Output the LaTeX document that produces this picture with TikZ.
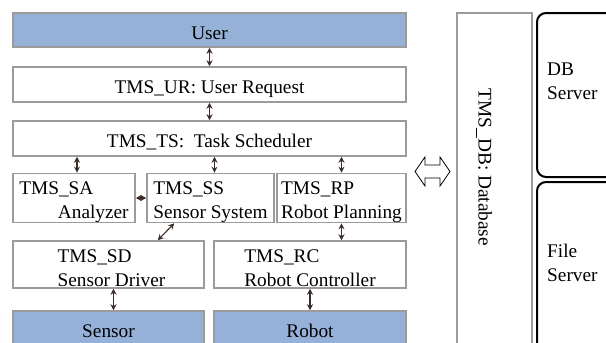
\documentclass[tikz,border=0pt]{standalone}
\usepackage{fontspec}
\setmainfont{Liberation Serif}
\usetikzlibrary{arrows.meta}

\definecolor{boxgray}{RGB}{155,155,155}
\definecolor{layerblue}{RGB}{149,177,216}
\definecolor{linkdark}{RGB}{60,45,40}
\newcommand\tmsstrut{\rule{0pt}{21pt}}

\begin{document}
\begin{tikzpicture}[x=1pt, y=-1pt,
  every node/.style={font=\fontsize{19.3}{24}\selectfont, inner sep=0pt},
  tmsbox/.style={draw=boxgray, line width=1.5pt, fill=white, minimum width=#1},
  oneline/.style={tmsbox=#1, minimum height=35pt, text height=18pt, text depth=0pt},
  twoline/.style={tmsbox=#1, align=left},
  endbox/.style={oneline=#1, fill=layerblue, minimum height=34pt},
  srvbox/.style={draw=black, line width=2pt, rounded corners=9pt, minimum width=88pt},
  link/.style={linkdark, line width=1.1pt, {Stealth[length=6pt,width=6pt]}-{Stealth[length=6pt,width=6pt]}}]
  \useasboundingbox (0,0) rectangle (606,343);
  \clip (0,0) rectangle (606,343);

  % User and upper layers
  \node[endbox=393pt] (user) at (209.5,30) {User};
  \node[oneline=393pt] (ur) at (209.5,84.5) {TMS\_UR: User Request};
  \node[oneline=393pt] (ts) at (209.5,138.5) {TMS\_TS:\ \ Task Scheduler};

  % Middle row
  \node[twoline=122pt, minimum height=46pt] (sa) at (74,198) {\tmsstrut TMS\_SA\\\hspace*{2em}Analyzer};
  \node[twoline=127pt, minimum height=46pt] (ss) at (210.5,198) {\tmsstrut TMS\_SS\\Sensor System};
  \node[twoline=129pt, minimum height=46pt] (rp) at (341.5,198) {\tmsstrut TMS\_RP\\Robot Planning};

  % Drivers
  \node[twoline=191pt, minimum height=47pt] (sd) at (108.5,264.5) {\tmsstrut\hspace*{6pt}TMS\_SD\\\hspace*{6pt}Sensor Driver};
  \node[twoline=192pt, minimum height=47pt] (rc) at (310,264.5) {\tmsstrut TMS\_RC\\Robot Controller};

  % Hardware
  \node[endbox=191pt] (sensor) at (108.5,328) {Sensor};
  \node[endbox=192pt] (robot) at (310,328) {Robot};

  % Links
  \draw[link] (user) -- (ur);
  \draw[link] (ur) -- (ts);
  \draw[link] ([xshift=3pt]sa.north) -- ([xshift=3pt]sa.north |- ts.south);
  \draw[link] ([xshift=4pt]ss.north) -- ([xshift=4pt]ss.north |- ts.south);
  \draw[link] (rp.north) -- (rp.north |- ts.south);
  \draw[link] (sa) -- (ss);
  \draw[link] ([xshift=28pt]ss.south west) -- ([xshift=-47pt]sd.north east);
  \draw[link] (rp.south) -- (rp.south |- rc.north);
  \draw[link] ([xshift=5pt]sd.south) -- ([xshift=5pt]sensor.north);
  \draw[link] (rc) -- (robot);

  % Hollow arrow to database
  \coordinate (dblink) at (432.5,171.5);
  \draw[line width=0.8pt] ([xshift=-17.5pt]dblink) -- ++(10,-14.5) -- ++(0,8) -- ++(15,0)
    -- ++(0,-8) -- ++(10,14.5) -- ++(-10,14.5) -- ++(0,-8) -- ++(-15,0) -- ++(0,8) -- cycle;

  % Database
  \node[tmsbox=75pt, minimum height=342pt] (db) at (494.5,184) {};
  \node[rotate=-90] (dbname) at (484,167.5) {TMS\_DB: Database};

  % Servers
  \node[srvbox, minimum height=164pt] (dbsrv) at (581,95) {};
  \node[srvbox, minimum height=173pt] (filesrv) at (581,268.5) {};
  \node[anchor=north west, align=left] (dbsrvname) at (547,63) {DB\\Server};
  \node[anchor=north west, align=left] (filesrvname) at (547,244) {File\\Server};
\end{tikzpicture}
\end{document}
